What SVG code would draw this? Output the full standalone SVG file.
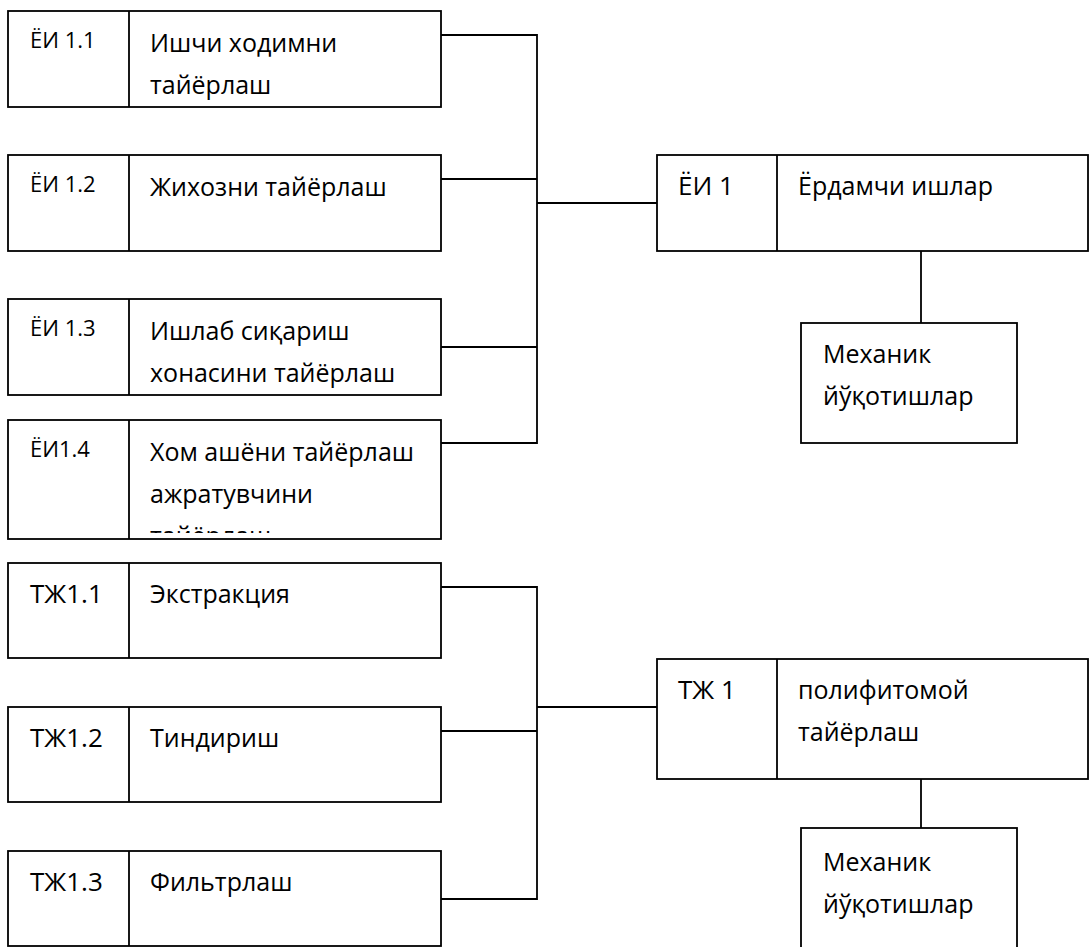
<svg xmlns="http://www.w3.org/2000/svg" width="1089" height="947" viewBox="0 0 1089 947">
<style>
.box{fill:#fff;stroke:#000;stroke-width:1.8}
.div{stroke:#000;stroke-width:1.8}
.con{fill:none;stroke:#000;stroke-width:1.8}
text{font-family:"Open Sans","Noto Sans","DejaVu Sans",sans-serif;fill:#000}
.t{font-size:25px}
.k{font-size:26px}
.c{font-size:22px}
</style>
<defs>
<clipPath id="clip14"><rect x="8" y="419" width="434" height="114"/></clipPath>
</defs>
<g id="connectors">
<polyline class="con" points="441,35 537,35 537,443 441,443"/>
<line class="con" x1="441" y1="179" x2="537" y2="179"/>
<line class="con" x1="441" y1="347" x2="537" y2="347"/>
<line class="con" x1="537" y1="203" x2="657" y2="203"/>
<line class="con" x1="921" y1="251" x2="921" y2="323"/>
<polyline class="con" points="441,587 537,587 537,899 441,899"/>
<line class="con" x1="441" y1="731" x2="537" y2="731"/>
<line class="con" x1="537" y1="707" x2="657" y2="707"/>
<line class="con" x1="921" y1="779" x2="921" y2="828"/>
</g>
<g id="n11">
<rect class="box" x="8" y="11" width="433" height="96"/>
<line class="div" x1="129" y1="11" x2="129" y2="107"/>
<text class="c" x="30" y="48">ЁИ 1.1</text>
<text class="t" x="150" y="52">Ишчи ходимни</text>
<text class="t" x="150" y="94">тайёрлаш</text>
</g>
<g id="n12">
<rect class="box" x="8" y="155" width="433" height="96"/>
<line class="div" x1="129" y1="155" x2="129" y2="251"/>
<text class="c" x="30" y="192">ЁИ 1.2</text>
<text class="t" x="150" y="196">Жихозни тайёрлаш</text>
</g>
<g id="n13">
<rect class="box" x="8" y="299" width="433" height="96"/>
<line class="div" x1="129" y1="299" x2="129" y2="395"/>
<text class="c" x="30" y="336">ЁИ 1.3</text>
<text class="t" x="150" y="340">Ишлаб сиқариш</text>
<text class="t" x="150" y="382">хонасини тайёрлаш</text>
</g>
<g id="n14">
<rect class="box" x="8" y="420" width="433" height="119"/>
<line class="div" x1="129" y1="420" x2="129" y2="539"/>
<text class="c" x="30" y="457">ЁИ1.4</text>
<g clip-path="url(#clip14)">
<text class="t" x="150" y="461">Хом ашёни тайёрлаш</text>
<text class="t" x="150" y="503">ажратувчини</text>
<text class="t" x="150" y="545">тайёрлаш</text>
</g>
</g>
<g id="n1">
<rect class="box" x="657" y="155" width="431" height="96"/>
<line class="div" x1="777" y1="155" x2="777" y2="251"/>
<text class="k" x="678" y="195">ЁИ 1</text>
<text class="t" x="798" y="195">Ёрдамчи ишлар</text>
</g>
<g id="m1">
<rect class="box" x="801" y="323" width="216" height="120"/>
<text class="t" x="823" y="363">Механик</text>
<text class="t" x="823" y="405">йўқотишлар</text>
</g>
<g id="t11">
<rect class="box" x="8" y="563" width="433" height="95"/>
<line class="div" x1="129" y1="563" x2="129" y2="658"/>
<text class="k" x="30" y="603">ТЖ1.1</text>
<text class="t" x="150" y="603">Экстракция</text>
</g>
<g id="t12">
<rect class="box" x="8" y="707" width="433" height="95"/>
<line class="div" x1="129" y1="707" x2="129" y2="802"/>
<text class="k" x="30" y="747">ТЖ1.2</text>
<text class="t" x="150" y="747">Тиндириш</text>
</g>
<g id="t13">
<rect class="box" x="8" y="851" width="433" height="95"/>
<line class="div" x1="129" y1="851" x2="129" y2="946"/>
<text class="k" x="30" y="891">ТЖ1.3</text>
<text class="t" x="150" y="891">Фильтрлаш</text>
</g>
<g id="t1">
<rect class="box" x="657" y="659" width="431" height="120"/>
<line class="div" x1="777" y1="659" x2="777" y2="779"/>
<text class="k" x="678" y="699">ТЖ 1</text>
<text class="t" x="798" y="699">полифитомой</text>
<text class="t" x="798" y="741">тайёрлаш</text>
</g>
<g id="m2">
<rect class="box" x="801" y="828" width="216" height="130"/>
<text class="t" x="823" y="871">Механик</text>
<text class="t" x="823" y="913">йўқотишлар</text>
</g>
</svg>
